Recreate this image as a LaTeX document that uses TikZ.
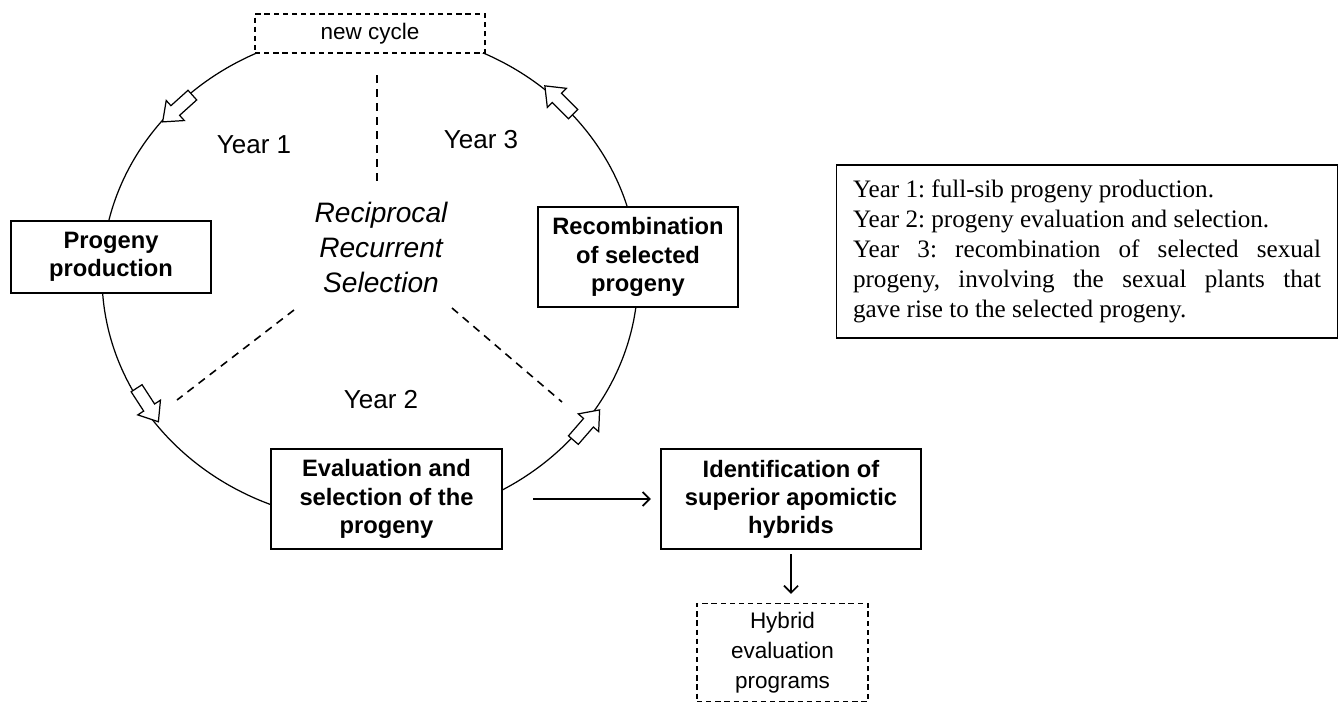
\documentclass[tikz,border=0pt]{standalone}
\usepackage{fontspec}
\setmainfont{Liberation Sans}
\newfontfamily\legendfont{Liberation Serif}
\usepackage{tikz}
\usetikzlibrary{calc}
\usetikzlibrary{arrows.meta}
\frenchspacing
\newcommand{\cycarrow}[3]{\filldraw[fill=white, line width=0.7pt, shift={( #1 , #2 )}, rotate= #3 ] (-0.4,-0.13) -- (0.06,-0.13) -- (0.06,-0.27) -- (0.4,0) -- (0.06,0.27) -- (0.06,0.13) -- (-0.4,0.13) -- cycle;}
\tikzset{
  stagebox/.style={draw, line width=1.3pt, fill=white, align=center, inner sep=0pt,
    font=\fontsize{13.5}{16}\selectfont\bfseries},
  notebox/.style={draw, dash pattern=on 3pt off 2.2pt, line width=0.6pt, fill=white, align=center, inner sep=0pt,
    font=\fontsize{12.8}{17}\selectfont},
  yearlabel/.style={font=\fontsize{14.8}{17}\selectfont},
  spoke/.style={dash pattern=on 4.5pt off 3.5pt, line width=0.9pt},
  flow/.style={-{Straight Barb[length=4pt, width=8pt]}, line width=1pt}
}

\begin{document}
\begin{tikzpicture}
        \useasboundingbox (0,0) rectangle (26.84,-14.08);
        % cycle
        \draw[line width=0.7pt] (7.40,-5.52) ellipse (5.36 and 4.92);
        \cycarrow{3.55}{-2.17}{222}
        \cycarrow{2.95}{-8.10}{303}
        \cycarrow{11.73}{-8.50}{49}
        \cycarrow{11.18}{-2.00}{135}
        % spokes
        \coordinate (s1a) at (7.54,-1.50);
        \coordinate (s1b) at (7.54,-3.74);
        \coordinate (s2a) at (5.88,-6.20);
        \coordinate (s2b) at (3.54,-8.00);
        \coordinate (s3a) at (9.04,-6.16);
        \coordinate (s3b) at (11.24,-8.04);
        \draw[spoke] (s1a) -- (s1b);
        \draw[spoke] (s2a) -- (s2b);
        \draw[spoke] (s3a) -- (s3b);
        % labels
        \node[notebox, minimum width=4.6cm, minimum height=0.78cm] (newcycle) at (7.40,-0.67) {new cycle};
        \node[yearlabel] (year1) at (5.08,-2.90) {Year 1};
        \node[yearlabel] (year3) at (9.62,-2.80) {Year 3};
        \node[yearlabel] (year2) at (7.62,-8.00) {Year 2};
        \node[align=center, font=\fontsize{16}{20.1}\selectfont\itshape] (rrs) at (7.62,-4.95)
            {Reciprocal\\Recurrent\\Selection};
        % stages
        \node[stagebox, minimum width=4.0cm, minimum height=1.44cm] (progeny) at (2.22,-5.14)
            {Progeny\\production};
        \node[stagebox, minimum width=4.0cm, minimum height=2.0cm] (recomb) at (12.76,-5.14)
            {Recombination\\of selected\\progeny};
        \node[stagebox, minimum width=4.62cm, minimum height=2.0cm] (eval) at (7.73,-9.98)
            {Evaluation and\\selection of the\\progeny};
        \node[stagebox, minimum width=5.2cm, minimum height=2.0cm] (ident) at (15.82,-9.98)
            {Identification of\\superior apomictic\\hybrids};
        \node[notebox, minimum width=3.42cm, minimum height=1.96cm] (hybrid) at (15.65,-13.05)
            {Hybrid\\evaluation\\programs};
        \draw[flow, shorten <=0.6cm, shorten >=0.18cm] (eval) -- (ident);
        \draw[flow, shorten <=0.08cm, shorten >=0.18cm] (ident.south) -- (ident.south |- hybrid.north);
        % legend
        \node[draw, line width=0.8pt, text width=9.36cm, align=justify, inner xsep=0.33cm, inner ysep=0.3cm,
            font=\legendfont\fontsize{14.3}{17}\selectfont] (legend) at (21.74,-5.03)
            {Year 1: full-sib progeny production.\\
             Year 2: progeny evaluation and selection.\\
             Year 3: recombination of selected sexual\linebreak
             progeny, involving the sexual plants that\linebreak
             gave rise to the selected progeny.};
\end{tikzpicture}
\end{document}
